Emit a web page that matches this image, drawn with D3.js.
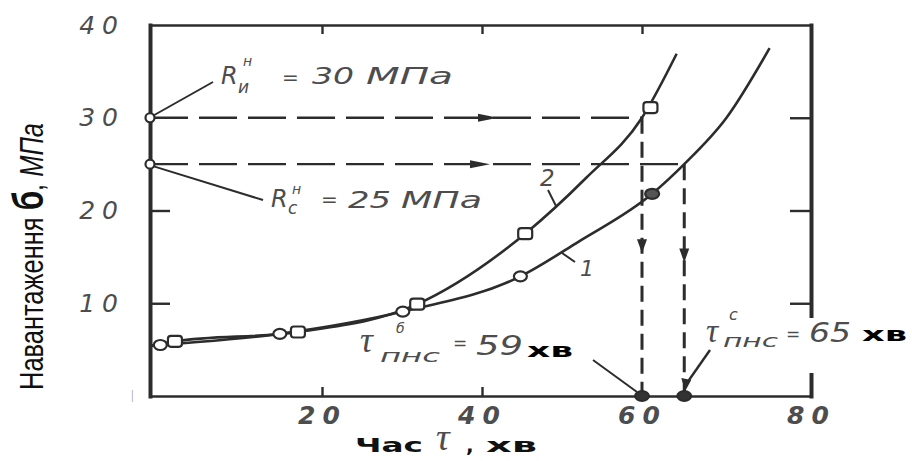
<!DOCTYPE html>
<html><head><meta charset="utf-8">
<script src="https://cdn.jsdelivr.net/npm/d3@7"></script>
<style>body{margin:0;background:#fff}svg{display:block}</style>
</head><body><svg id="c" width="912" height="461"></svg>
<script>
// ---------------- data ----------------
const xTickValues = [20, 40, 60, 80];
const yTickValues = [10, 20, 30, 40];
const xBreaks = [0, 20, 40, 60, 80];
// curve 1 (lower) and curve 2 (upper) — stress vs time
const line1X = [0, 1.2, 15.1, 30.1, 44.8, 52, 61.2, 65, 70, 75.1];
const line1Y = [5.4, 5.5, 6.7, 9.1, 12.9, 16.6, 21.8, 25, 30, 37.5];
const line2X = [0, 2.9, 17.2, 31.9, 45.4, 53, 60, 64.1];
const line2Y = [5.4, 5.9, 6.9, 9.9, 17.5, 23.5, 30, 36.9];
// measured points
const circleX = [1.2, 15.1, 30.1, 44.8];
const circleY = [5.5, 6.7, 9.1, 12.9];
const squareX = [2.9, 17.2, 31.9, 45.4, 61];
const squareY = [5.9, 6.9, 9.9, 17.5, 31.1];
const filledX = [61.2];
const filledY = [21.8];
// normative strengths (MPa) and limit times (h)
const limitLevels = [30, 25];
const limitTimes = [60, 65];
const arrowAtX = [42, 41];
const arrowAtY = [15.4, 14.4];

// ---------------- chart ----------------
const svg = d3.select("#c");
const x = d3.scaleLinear().domain(xBreaks).range([150, 322, 482, 642, 811]);
const y = d3.scaleLinear().domain([0, 40]).range([396, 25]);
const ink = "#2c2c2c", grey = "#4d4d4d";
const italicSans = "'DejaVu Sans', 'Liberation Sans', sans-serif";
const serif = "'Liberation Serif', 'DejaVu Serif', serif";

// guide dashed lines
const guides = limitLevels.map((lv, i) => ({lv, t: limitTimes[i], ax: arrowAtX[i], ay: arrowAtY[i]}));
svg.selectAll(".hd").data(guides).join("line").attr("class", "hd")
  .attr("x1", x(0)).attr("x2", d => x(d.t)).attr("y1", d => y(d.lv)).attr("y2", d => y(d.lv))
  .attr("stroke", ink).attr("stroke-width", 2.3).attr("stroke-dasharray", "38,11");
svg.selectAll(".vd").data(guides).join("line").attr("class", "vd")
  .attr("x1", d => x(d.t)).attr("x2", d => x(d.t)).attr("y1", d => y(d.lv)).attr("y2", y(0))
  .attr("stroke", ink).attr("stroke-width", 3).attr("stroke-dasharray", "16,8");
// arrowheads on guides
svg.selectAll(".ha").data(guides).join("path").attr("class", "ha")
  .attr("d", d => { const px = x(d.ax), py = y(d.lv); return `M${px - 20},${py - 4}L${px},${py}L${px - 20},${py + 4}Z`; })
  .attr("fill", ink);
svg.selectAll(".va").data(guides).join("path").attr("class", "va")
  .attr("d", d => { const px = x(d.t), py = y(d.ay); return `M${px - 5},${py - 14}L${px},${py}L${px + 5},${py - 14}Z`; })
  .attr("fill", ink);

// frame / axes
function styleAxis(g, w) {
  g.select(".domain").attr("stroke", ink).attr("stroke-width", w).attr("stroke-linecap", "square");
  g.selectAll(".tick line").attr("stroke", ink).attr("stroke-width", 2.4);
}
svg.append("g").attr("transform", `translate(0,${y(40)})`)
  .call(d3.axisTop(x).tickValues([20, 40, 60]).tickSizeInner(-9).tickSizeOuter(0).tickFormat(""))
  .call(g => styleAxis(g, 2.6));
svg.append("g").attr("transform", `translate(0,${y(0)})`)
  .call(d3.axisBottom(x).tickValues([20, 40]).tickSizeInner(-9).tickSizeOuter(0).tickFormat(""))
  .call(g => styleAxis(g, 2.6));
svg.append("g").attr("transform", `translate(${x(0)},0)`)
  .call(d3.axisLeft(y).tickValues([10, 20]).tickSizeInner(-20).tickSizeOuter(0).tickFormat(""))
  .call(g => styleAxis(g, 4));
svg.append("g").attr("transform", `translate(${x(80)},0)`)
  .call(d3.axisRight(y).tickValues([10, 20, 30]).tickSizeInner(-21).tickSizeOuter(0).tickFormat(""))
  .call(g => styleAxis(g, 4));
// gap in the right frame where the label crosses it
svg.append("rect").attr("x", x(80) - 8).attr("y", 318).attr("width", 16).attr("height", 55).attr("fill", "#fff");

// tick labels
svg.append("g").attr("transform", `translate(${x(0)},0)`)
  .call(d3.axisLeft(y).tickValues(yTickValues).tickSize(0).tickPadding(25))
  .call(g => g.select(".domain").remove())
  .selectAll("text").attr("font-family", italicSans).attr("font-style", "italic")
  .attr("font-size", 25).attr("letter-spacing", 7).attr("fill", grey);
svg.append("g").attr("transform", `translate(0,${y(0)})`)
  .call(d3.axisBottom(x).tickValues(xTickValues).tickSize(0).tickPadding(10))
  .call(g => g.select(".domain").remove())
  .selectAll("text").attr("font-family", italicSans).attr("font-style", "italic").attr("font-weight", "bold")
  .attr("font-size", 25).attr("letter-spacing", 7).attr("fill", grey);
svg.append("text").attr("x", 131).attr("y", 399).attr("font-size", 13).attr("fill", "#999").text("|");

// curves
const line = d3.line().x(d => x(d[0])).y(d => y(d[1])).curve(d3.curveMonotoneX);
svg.append("path").attr("d", line(d3.zip(line1X, line1Y))).attr("fill", "none").attr("stroke", ink).attr("stroke-width", 2.6);
svg.append("path").attr("d", line(d3.zip(line2X, line2Y))).attr("fill", "none").attr("stroke", ink).attr("stroke-width", 2.6);

// markers
svg.selectAll(".mc").data(d3.zip(circleX, circleY)).join("ellipse").attr("class", "mc")
  .attr("cx", d => x(d[0])).attr("cy", d => y(d[1])).attr("rx", 6.5).attr("ry", 5)
  .attr("fill", "#fff").attr("stroke", ink).attr("stroke-width", 2.2);
svg.selectAll(".ms").data(d3.zip(squareX, squareY)).join("rect").attr("class", "ms")
  .attr("x", d => x(d[0]) - 7).attr("y", d => y(d[1]) - 5.5).attr("width", 14).attr("height", 11).attr("rx", 3)
  .attr("fill", "#fff").attr("stroke", ink).attr("stroke-width", 2.2);
svg.selectAll(".mf").data(d3.zip(filledX, filledY)).join("ellipse").attr("class", "mf")
  .attr("cx", d => x(d[0])).attr("cy", d => y(d[1])).attr("rx", 7).attr("ry", 5)
  .attr("fill", "#555").attr("stroke", ink).attr("stroke-width", 2.2);
// points on axes
svg.selectAll(".ay").data(limitLevels).join("circle").attr("class", "ay")
  .attr("cx", x(0)).attr("cy", d => y(d)).attr("r", 4.5)
  .attr("fill", "#fff").attr("stroke", ink).attr("stroke-width", 2.2);
svg.selectAll(".ax").data(limitTimes).join("ellipse").attr("class", "ax")
  .attr("cx", d => x(d)).attr("cy", y(0)).attr("rx", 7).attr("ry", 5)
  .attr("fill", "#333").attr("stroke", ink).attr("stroke-width", 2);

// leader lines
function lead(x1, y1, x2, y2, w) {
  svg.append("line").attr("x1", x1).attr("y1", y1).attr("x2", x2).attr("y2", y2)
    .attr("stroke", ink).attr("stroke-width", w || 2);
}
lead(x(0) + 3, y(30) - 2, 213, 82);
lead(x(0) + 3, y(25) + 2, 263, 200);
lead(548, 190, 556, 206);
lead(562, 253, 575, 262);
lead(593, 360, x(60) - 5, y(0) - 4);
lead(710, 350, x(65) + 2, y(0) - 12, 2.4);
svg.append("path").attr("d", `M${x(65) - 3},${y(0) - 18}L${x(65) + 1},${y(0) - 5}L${x(65) + 7},${y(0) - 16}Z`).attr("fill", ink);

// texts
function t(xp, yp, s, o) {
  o = o || {};
  const el = svg.append("text").attr("x", xp).attr("y", yp).text(s)
    .attr("font-family", o.family || italicSans)
    .attr("font-style", o.style || "italic")
    .attr("font-weight", o.weight || "normal")
    .attr("font-size", o.size || 22)
    .attr("fill", o.fill || grey);
  if (o.len) el.attr("textLength", o.len).attr("lengthAdjust", "spacingAndGlyphs");
  return el;
}
// R_и^н = 30 МПа
t(221, 84, "R", {size: 24});
t(238, 93, "и", {size: 17});
t(243, 66, "н", {size: 14});
t(282, 84, "=", {size: 20});
t(312, 84, "30", {size: 23, len: 42});
t(366, 84, "МПа", {size: 23, len: 87});
// R_c^н = 25 МПа
t(271, 207, "R", {size: 24});
t(288, 214, "с", {size: 17});
t(292, 194, "н", {size: 14});
t(321, 206, "=", {size: 20});
t(348, 208, "25", {size: 23, len: 43});
t(401, 208, "МПа", {size: 23, len: 81});
// curve labels
t(540, 186, "2", {size: 23});
t(580, 276, "1", {size: 22});
// τ_пнс^б = 59 хв
t(360, 352, "τ", {family: serif, size: 36});
t(396, 333, "б", {size: 14});
t(380, 362, "пнс", {size: 18, len: 60});
t(453, 349, "=", {size: 17});
t(476, 355, "59", {size: 27, len: 47});
t(527, 357, "хв", {family: "'DejaVu Sans', sans-serif", style: "normal", weight: "bold", size: 20, fill: "#000", len: 46});
// τ_пнс^с = 65 хв
t(706, 342, "τ", {family: serif, size: 34});
t(729, 320, "с", {size: 16});
t(723, 347, "пнс", {size: 18, len: 55});
t(786, 340, "=", {size: 17});
t(809, 342, "65", {size: 27, len: 42});
t(862, 341, "хв", {family: "'DejaVu Sans', sans-serif", style: "normal", weight: "bold", size: 19, fill: "#000", len: 45});

// x axis title
t(355, 452, "Час", {family: "'DejaVu Sans', sans-serif", style: "normal", weight: "bold", size: 19, fill: "#111", len: 68});
t(436, 450, "τ", {family: serif, size: 38});
t(466, 452, ",", {family: "'DejaVu Sans', sans-serif", style: "normal", weight: "bold", size: 20, fill: "#111"});
t(486, 452, "хв", {family: "'DejaVu Sans', sans-serif", style: "normal", weight: "bold", size: 19, fill: "#111", len: 51});

// y axis title
const yt = svg.append("text").attr("transform", "translate(43,390) rotate(-90)")
  .attr("font-family", "'Liberation Sans Narrow', 'Liberation Sans', Arial, sans-serif")
  .attr("font-size", 34).attr("fill", "#111")
  .attr("textLength", 267).attr("lengthAdjust", "spacingAndGlyphs");
yt.append("tspan").text("Навантаження ");
yt.append("tspan").attr("font-size", 42).attr("font-weight", "bold").text("б");
yt.append("tspan").text(", ");
yt.append("tspan").attr("font-style", "italic").text("МПа");
</script></body></html>
